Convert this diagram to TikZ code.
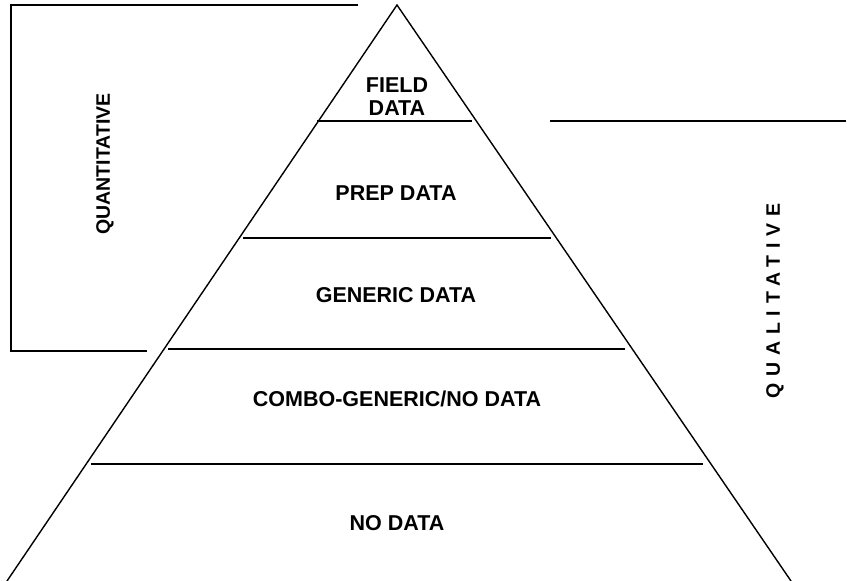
\documentclass[tikz,border=0pt]{standalone}
\usepackage{fontspec}
\setmainfont{Liberation Sans}
\begin{document}
\begin{tikzpicture}[x=1pt,y=-1pt,
  ln/.style={line width=1.4pt,black},
  lbl/.style={font=\bfseries\fontsize{21.5}{23}\selectfont,align=center,inner sep=0pt},
  side/.style={font=\bfseries\fontsize{19.5}{22}\selectfont,inner sep=0pt,rotate=90}]
\useasboundingbox (0,0) rectangle (847,581);
% pyramid
\coordinate (apex) at (397,5);
\coordinate (bl) at (7,581);
\coordinate (br) at (791,581);
\draw[ln] (bl) -- (apex) -- (br);
% level lines
\draw[ln] (317,121) -- (472,121);
\draw[ln] (243,238) -- (551,238);
\draw[ln] (168,349) -- (625,349);
\draw[ln] (91,464) -- (703,464);
% left bracket
\draw[ln] (358,5) -- (11,5) -- (11,351) -- (147,351);
% right line
\draw[ln] (550,121) -- (846,121);
% labels
\node[lbl] (field) at (397,97) {FIELD\\DATA};
\node[lbl] (prep) at (396,193) {PREP DATA};
\node[lbl] (generic) at (396,295) {GENERIC DATA};
\node[lbl] (combo) at (397,399) {COMBO-GENERIC/NO DATA};
\node[lbl] (nodata) at (397,523) {NO DATA};
\node[side] (quant) at (105,164) {QUANTITATIVE};
\node[side,font=\bfseries\fontsize{19.5}{22}\selectfont\addfontfeatures{LetterSpace=35}] (qual) at (775,301) {QUALITATIVE};
\end{tikzpicture}
\end{document}
